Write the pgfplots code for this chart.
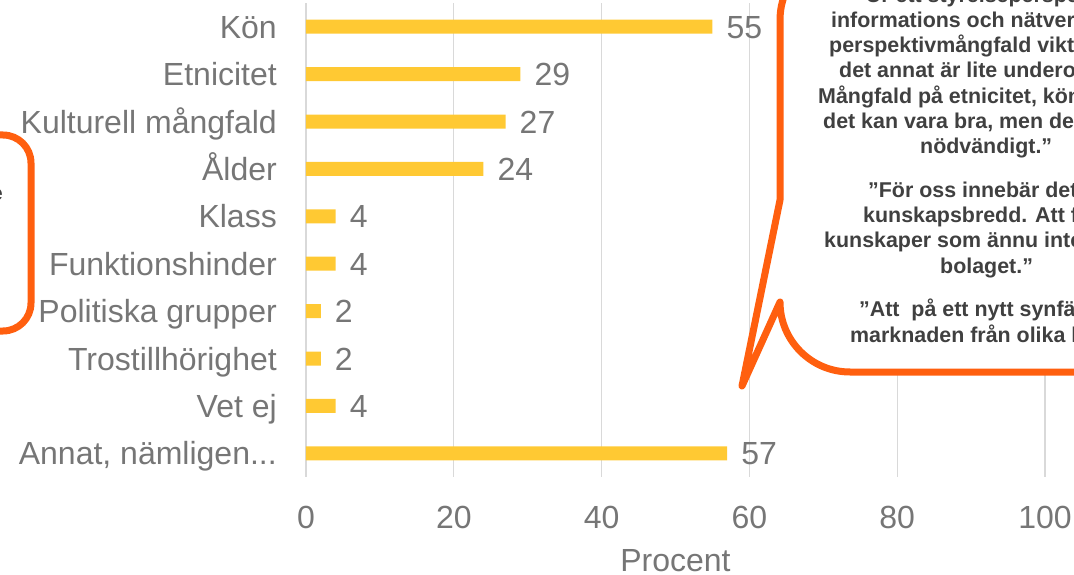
\documentclass[border=0pt]{standalone}
\usepackage{pgfplots}
\pgfplotsset{compat=1.18}
\usepackage{pgfplotstable}
\usepackage{fontspec}
\setmainfont{Liberation Sans}

\definecolor{barY}{RGB}{255,201,51}
\definecolor{txtG}{RGB}{118,118,118}
\definecolor{gridG}{RGB}{217,217,217}
\definecolor{callout}{RGB}{255,95,15}
\definecolor{quoteT}{RGB}{64,64,64}

% Andel (procent) per mångfaldsaspekt, uppifrån och ned
\pgfplotstableread{
idx val
0 55
1 29
2 27
3 24
4 4
5 4
6 2
7 2
8 4
9 57
}\aspekter

\begin{document}
\begin{tikzpicture}[x=1pt,y=1pt]
\useasboundingbox (0,0) rectangle (1074,574);
\clip (0,0) rectangle (1074,574);

\begin{axis}[
  at={(306pt,97pt)}, anchor=south west,
  scale only axis, width=739pt, height=474pt,
  xbar, bar width=14pt,
  xmin=0, xmax=100, ymin=-0.5, ymax=9.5,
  y dir=reverse,
  xtick={0,20,40,60,80,100},
  ytick={0,1,2,3,4,5,6,7,8,9},
  yticklabels={Kön,Etnicitet,Kulturell mångfald,Ålder,Klass,Funktionshinder,Politiska grupper,Trostillhörighet,Vet ej,{Annat, nämligen.{}.{}.}},
  xmajorgrids, grid style={gridG, line width=1.3pt},
  axis line style={draw=none},
  major tick length=0pt,
  /pgf/number format/assume math mode=true,
  ticklabel style={font=\fontsize{32}{38}\selectfont, text=txtG, inner sep=0pt},
  xticklabel style={yshift=-29pt},
  yticklabel style={xshift=-29pt, text height=23pt, text depth=0pt},
  xlabel={Procent},
  xlabel style={at={(axis description cs:0.5,0)}, anchor=base, yshift=-94pt,
    inner sep=0pt, font=\fontsize{32}{38}\selectfont, text=txtG},
  nodes near coords,
  nodes near coords style={anchor=west, inner sep=0pt, xshift=14pt,
    font=\fontsize{32}{38}\selectfont, text=txtG, text height=23pt, text depth=0pt},
  clip=false,
]
\addplot[fill=barY, draw=none] table[x=val, y=idx] {\aspekter};
\end{axis}

% pratbubbla med citat
\draw[callout, line width=7pt, fill=white, line join=round]
  (1150,624) -- (850,624) arc[start angle=90, end angle=180, radius=70]
  -- (780,374) -- (742,188) -- (780,272)
  arc[start angle=180, end angle=270, radius=70]
  -- (1150,202) -- cycle;

\begin{scope}[every node/.style={anchor=base west, inner sep=0pt, text=quoteT,
    font=\fontsize{21.4}{25}\selectfont\bfseries}]
\node at (855,571) {”Ur ett styrelseperspektiv är det};
\node at (831,546) {informations och nätverksbredd samt};
\node at (829,521) {perspektivmångfald viktigast, allt};
\node at (839,496) {det annat är lite underordnat.};
\node at (818,470) {Mångfald på etnicitet, kön, ålder, etc.};
\node at (823,445) {det kan vara bra, men det är inte};
\node at (920,420) {nödvändigt.”};
\node at (868,376) {”För oss innebär det en ökad};
\node at (863,351) {kunskapsbredd. Att få in nya};
\node at (824,326) {kunskaper som ännu inte finns i};
\node at (940,301) {bolaget.”};
\node at (859,258) {”Att\ \ på ett nytt synfält se på};
\node at (850,232) {marknaden från olika håll.”};
\end{scope}

% ruta till vänster
\draw[callout, line width=7pt, rounded corners=28pt] (-100,243) rectangle (31,439);
\node[anchor=base east, inner sep=0pt, text=quoteT,
  font=\fontsize{21.4}{25}\selectfont\bfseries] at (3,373.5) {Kompetens i styrelse};
\end{tikzpicture}
\end{document}
